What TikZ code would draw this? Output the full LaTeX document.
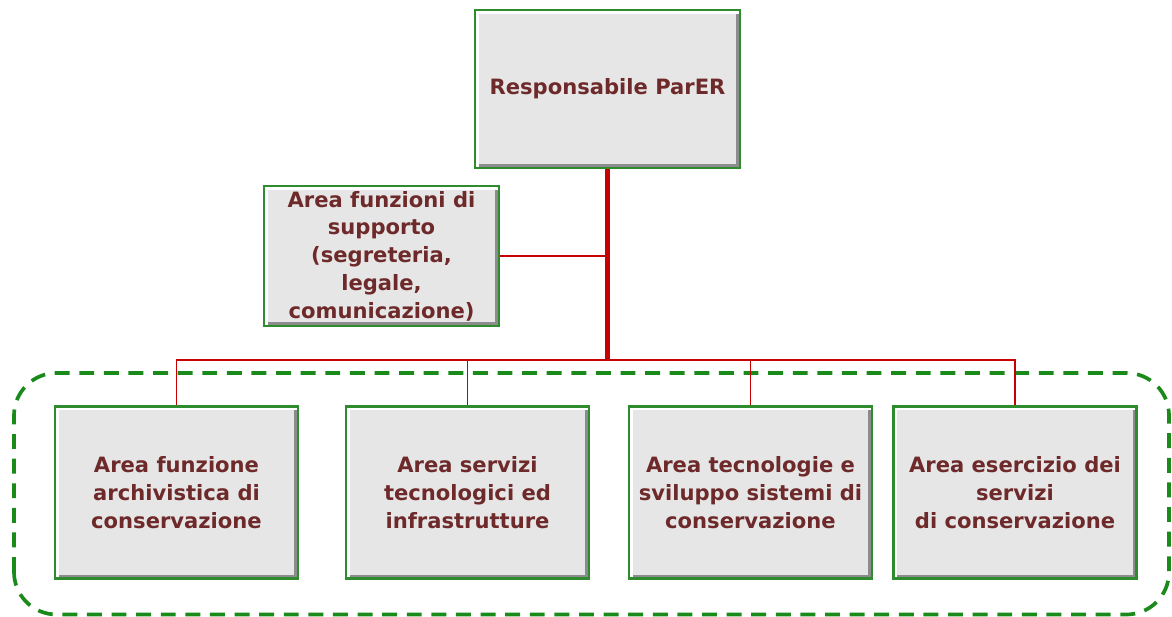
\documentclass[tikz,border=0pt]{standalone}
\usepackage{fontspec}
\setmainfont{DejaVu Sans}
\usetikzlibrary{positioning}
\definecolor{boxgreen}{HTML}{2E8B2E}
\definecolor{dashgreen}{HTML}{1A8A1A}
\definecolor{linkred}{HTML}{C80000}
\definecolor{txtbrown}{HTML}{6E2A2A}
\definecolor{boxgray}{HTML}{E6E6E6}

\begin{document}
\begin{tikzpicture}[
	every node/.style={font=\bfseries\fontsize{12}{15.8}\selectfont, text=txtbrown, align=center},
	unitbox/.style={draw=boxgreen, line width=1.2pt, fill=boxgray, inner sep=2pt,
		path picture={\draw[black!45, line width=4.5pt] (path picture bounding box.north east) -- (path picture bounding box.south east) -- (path picture bounding box.south west);
			\draw[white, line width=4pt] (path picture bounding box.south west) -- (path picture bounding box.north west) -- (path picture bounding box.north east);}},
	areabox/.style={unitbox, minimum width=4.86cm, minimum height=3.44cm},
	link/.style={draw=linkred, line width=1.1pt},
	mainlink/.style={draw=linkred, line width=2.3pt}]
	\useasboundingbox (0,0) rectangle (23.44,12.32);
	\draw[dashgreen, line width=2.1pt, dash pattern=on 8.5pt off 5.5pt, rounded corners=0.85cm] (0.28,0.03) rectangle (23.38,4.86);
	\node[unitbox, minimum width=5.3cm, minimum height=3.16cm] (resp) at (12.15,10.54) {Responsabile ParER};
	\node[unitbox, minimum width=4.7cm, minimum height=2.8cm] (supp) at (7.63,7.2) {Area funzioni di\\supporto\\(segreteria,\\legale,\\comunicazione)};
	\node[areabox] (arch) at (3.53,2.47) {Area funzione\\archivistica di\\conservazione};
	\node[areabox] (serv) at (9.35,2.47) {Area servizi\\tecnologici ed\\infrastrutture};
	\node[areabox] (tecn) at (15.01,2.47) {Area tecnologie e\\sviluppo sistemi di\\conservazione};
	\node[areabox] (eser) at (20.3,2.47) {Area esercizio dei\\servizi\\di conservazione};
	\coordinate (bus) at (resp.south |- 0,5.12);
	\draw[mainlink] (resp.south) -- (bus);
	\draw[link] (supp.east) -- (supp.east -| resp.south);
	\foreach \n in {arch,serv,tecn,eser}
		\draw[link] (bus) -| (\n.north);
\end{tikzpicture}
\end{document}
